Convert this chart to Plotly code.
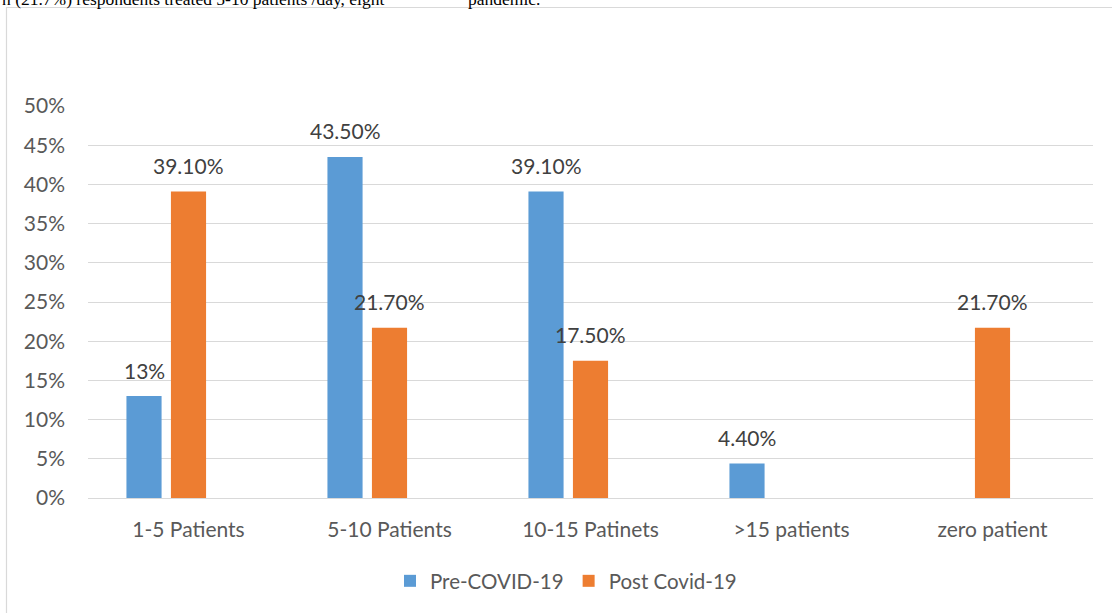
import plotly.graph_objects as go

categories = ["1-5 Patients", "5-10 Patients", "10-15 Patinets", ">15 patients", "zero patient"]
pre_covid = [0.13, 0.435, 0.391, 0.044, None]
post_covid = [0.391, 0.217, 0.175, None, 0.217]
empty_series = [None, None, None, None, None]
pre_labels = ["13%", "43.50%", "39.10%", "4.40%", ""]
post_labels = ["39.10%", "21.70%", "17.50%", "", "21.70%"]
y_ticks = [0, 0.05, 0.10, 0.15, 0.20, 0.25, 0.30, 0.35, 0.40, 0.45, 0.50]
y_ticktext = ["0%", "5%", "10%", "15%", "20%", "25%", "30%", "35%", "40%", "45%", "50%"]

W, H = 1112, 613
BLUE = "#5b9bd5"
ORANGE = "#ed7d31"
FONT = "Lato"
FS = 21
BARGAP = 0.336

fig = go.Figure()
fig.add_trace(go.Bar(name="Pre-COVID-19", x=categories, y=pre_covid, marker_color=BLUE,
                     marker_line_width=0))
fig.add_trace(go.Bar(name="Post Covid-19", x=categories, y=post_covid, marker_color=ORANGE,
                     marker_line_width=0))
fig.add_trace(go.Bar(name="", x=categories, y=empty_series, showlegend=False,
                     marker_color="rgba(0,0,0,0)", hoverinfo="skip"))

annotations = []
slot = (1 - BARGAP) / 3
for i, cat in enumerate(categories):
    for vals, labs, off in ((pre_covid, pre_labels, -slot), (post_covid, post_labels, 0.0)):
        if vals[i] is None or not labs[i]:
            continue
        annotations.append(dict(x=i + off, y=vals[i], xref="x", yref="y", text=labs[i],
                                showarrow=False, yanchor="middle", yshift=26,
                                font=dict(family=FONT, size=FS, color="#404040")))

# cropped line of the surrounding document text
annotations.append(dict(x=0, y=1 + 1.0 / H, xref="paper", yref="paper", xanchor="left", yanchor="middle",
                        text="n (21.7%) respondents treated 5-10 patients /day, eight", showarrow=False,
                        font=dict(family="Liberation Serif", size=17.5, color="#000000")))
annotations.append(dict(x=466 / W, y=1 + 1.0 / H, xref="paper", yref="paper", xanchor="left", yanchor="middle",
                        text="pandemic.", showarrow=False,
                        font=dict(family="Liberation Serif", size=17.5, color="#000000")))

fig.update_layout(
    width=W, height=H,
    margin=dict(l=0, r=0, t=0, b=0, autoexpand=False),
    paper_bgcolor="white", plot_bgcolor="white",
    barmode="group", bargap=BARGAP, bargroupgap=0.21,
    font=dict(family=FONT, size=FS, color="#595959"),
    showlegend=True,
    legend=dict(orientation="h", x=390 / W, y=1 - 581 / H, xanchor="left", yanchor="middle",
                font=dict(family=FONT, size=20.5, color="#595959"), itemclick=False),
    xaxis=dict(domain=[88 / W, 1093 / W], showgrid=False, showline=True, linecolor="#d9d9d9",
               automargin=False, ticks="", tickfont=dict(size=FS, color="#595959"),
               ticklabelstandoff=13),
    yaxis=dict(domain=[1 - 498 / H, 1 - 106 / H], range=[0, 0.5], tickvals=y_ticks, ticktext=y_ticktext,
               showgrid=True, gridcolor="#d9d9d9", gridwidth=1, zeroline=False, showline=False,
               automargin=False, ticks="", tickfont=dict(size=FS, color="#595959"),
               ticklabelstandoff=22),
    annotations=annotations,
    shapes=[dict(type="rect", xref="paper", yref="paper", x0=6.5 / W, x1=1.2,
                 y0=-0.2, y1=1 - 7.5 / H, line=dict(color="#d9d9d9", width=1.2),
                 fillcolor="rgba(0,0,0,0)", layer="below")],
)

fig.write_html("out.html")
